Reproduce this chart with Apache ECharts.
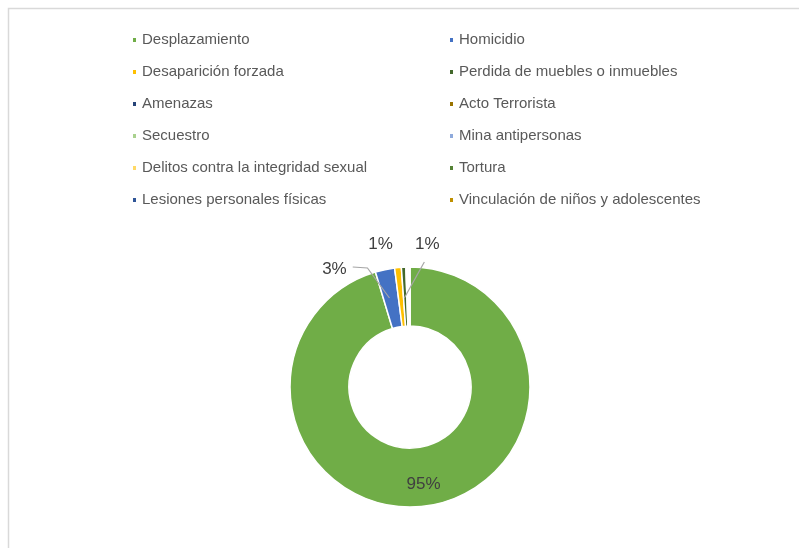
<!DOCTYPE html>
<html>
<head>
<meta charset="utf-8">
<script src="https://cdn.jsdelivr.net/npm/echarts@6/dist/echarts.min.js"></script>
<style>
  html, body { margin: 0; padding: 0; background: #fff; }
  #chart { width: 799px; height: 548px; }
</style>
</head>
<body>
<div id="chart"></div>
<script>
const categories = [
  'Desplazamiento', 'Homicidio',
  'Desaparición forzada', 'Perdida de muebles o inmuebles',
  'Amenazas', 'Acto Terrorista',
  'Secuestro', 'Mina antipersonas',
  'Delitos contra la integridad sexual', 'Tortura',
  'Lesiones personales físicas', 'Vinculación de niños y adolescentes'
];
const values = [954, 26, 9, 6, 1, 1, 1, 0.5, 0.5, 0.5, 0.5, 0.5];
const colors = [
  '#70AD47', '#4472C4', '#FFC000', '#43682B', '#264478', '#997300',
  '#A9D18E', '#8FAADC', '#FFD966', '#548235', '#2F5597', '#BF9000'
];
const labeled = [true, true, true, true, false, false, false, false, false, false, false, false];

const chart = echarts.init(document.getElementById('chart'), null, { renderer: 'canvas' });

const legendText = { color: '#595959', fontSize: 15, fontFamily: 'Liberation Sans', lineHeight: 16 };
const leftNames = categories.filter((_, i) => i % 2 === 0);
const rightNames = categories.filter((_, i) => i % 2 === 1);
function makeLegend(names, left) {
  return {
    data: names.map(n => ({ name: n, icon: 'rect' })),
    orient: 'vertical',
    left: left,
    top: 32,
    padding: 0,
    itemWidth: 5,
    itemHeight: 6,
    itemGap: 16,
    itemTextGap: 7,
    selectedMode: false,
    textStyle: legendText
  };
}

// coloured ring (no labels)
const ringData = categories.map((name, i) => ({
  name: name, value: values[i], itemStyle: { color: colors[i] }
}));

// transparent overlay ring carrying the labels so leader lines sit above the slices
const labelData = categories.map((name, i) => {
  const item = { name: name, value: values[i] };
  if (i === 0) {
    item.label = { show: true, position: 'inside' };
  } else if (labeled[i]) {
    item.label = { show: true, position: 'outside' };
    item.labelLine = { show: i !== 2 };
  } else {
    item.label = { show: false };
    item.labelLine = { show: false };
  }
  return item;
});

// Excel-like placement of the small outside labels, relative to each slice's own box
function excelLabelLayout(p) {
  const r = p.rect;
  const lr = p.labelRect;
  if (p.dataIndex === 0) {
    return { dy: 5 };
  }
  if (p.dataIndex === 1) {
    const cx = r.x - 41, cy = r.y + 1;
    return {
      x: cx, y: cy, align: 'center', verticalAlign: 'middle',
      labelLinePoints: [[cx + lr.width / 2 + 6, cy - 2], [r.x - 8, cy - 1], [r.x + 14, r.y + 30]]
    };
  }
  if (p.dataIndex === 2) {
    return { x: r.x - 14, y: r.y - 23, align: 'center', verticalAlign: 'middle' };
  }
  if (p.dataIndex === 3) {
    const cx = r.x + 26, cy = r.y - 23;
    return {
      x: cx, y: cy, align: 'center', verticalAlign: 'middle',
      labelLinePoints: [[r.x + 23, r.y - 5], [r.x + 13, r.y + 13], [r.x + 3, r.y + 31]]
    };
  }
  return {};
}

const ringGeom = {
  type: 'pie',
  center: [410, 387],
  radius: [61, 120],
  startAngle: 90,
  clockwise: true,
  avoidLabelOverlap: false,
  percentPrecision: 0,
  silent: true,
  emphasis: { disabled: true }
};

chart.setOption({
  animation: false,
  backgroundColor: '#fff',
  graphic: [{
    type: 'rect',
    shape: { x: 8.5, y: 8.5, width: 820, height: 560 },
    style: { fill: 'none', stroke: '#D9D9D9', lineWidth: 1.5 },
    silent: true
  }],
  legend: [makeLegend(leftNames, 131), makeLegend(rightNames, 448)],
  series: [
    Object.assign({}, ringGeom, {
      name: 'ring',
      z: 2,
      itemStyle: { borderColor: '#ffffff', borderWidth: 1.5 },
      label: { show: false },
      labelLine: { show: false },
      data: ringData
    }),
    Object.assign({}, ringGeom, {
      name: 'labels',
      z: 4,
      itemStyle: { color: 'rgba(0,0,0,0)', borderWidth: 0 },
      label: {
        formatter: '{d}%',
        color: '#404040',
        fontSize: 17,
        fontFamily: 'Liberation Sans'
      },
      labelLine: {
        showAbove: true,
        length: 12,
        length2: 14,
        lineStyle: { color: '#A6A6A6', width: 1.2 }
      },
      labelLayout: excelLabelLayout,
      data: labelData
    })
  ]
});
</script>
</body>
</html>
